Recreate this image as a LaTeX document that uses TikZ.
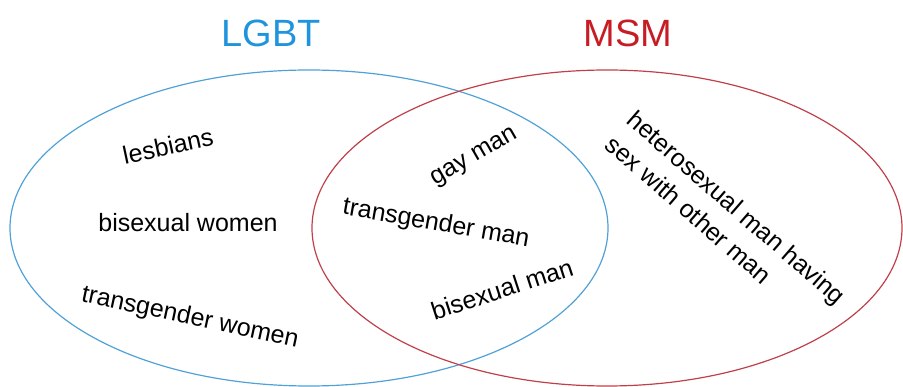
\documentclass[tikz,border=0pt]{standalone}
\usepackage{fontspec}
\setmainfont{Liberation Sans}
\definecolor{lgbtblue}{RGB}{30,148,220}
\definecolor{lgbtline}{RGB}{80,162,214}
\definecolor{msmred}{RGB}{200,28,36}
\definecolor{msmline}{RGB}{192,64,74}
\begin{document}
\begin{tikzpicture}[x=1pt,y=1pt]
\tikzstyle{every node}+=[inner sep=0pt]
\tikzstyle{group}=[font=\fontsize{25}{33}\selectfont, text=black]
\tikzstyle{title}=[font=\fontsize{38}{44}\selectfont]
\useasboundingbox (0,0) rectangle (903,-387);
% the two sets
\draw [lgbtline, line width=1.2pt] (309,-228) ellipse [x radius=299, y radius=158];
\draw [msmline, line width=1.2pt] (607,-228) ellipse [x radius=295, y radius=158];
\node [title, text=lgbtblue] (lgbt) at (271,-33) {LGBT};
\node [title, text=msmred] (msm) at (628,-33) {MSM};
% LGBT only
\node [group, rotate=12] (lesbians) at (168,-146) {lesbians};
\node [group] (biwomen) at (188,-223) {bisexual women};
\node [group, rotate=-12] (transwomen) at (190,-318) {transgender women};
% both
\node [group, rotate=30] (gay) at (475,-158) {gay man};
\node [group, rotate=-10] (transman) at (436,-224) {transgender man};
\node [group, rotate=18] (biman) at (502,-289) {bisexual man};
% MSM only
\node [group, rotate=-41, align=left] (hetero) at (726,-220) {heterosexual man having\\sex with other man};
\end{tikzpicture}
\end{document}
